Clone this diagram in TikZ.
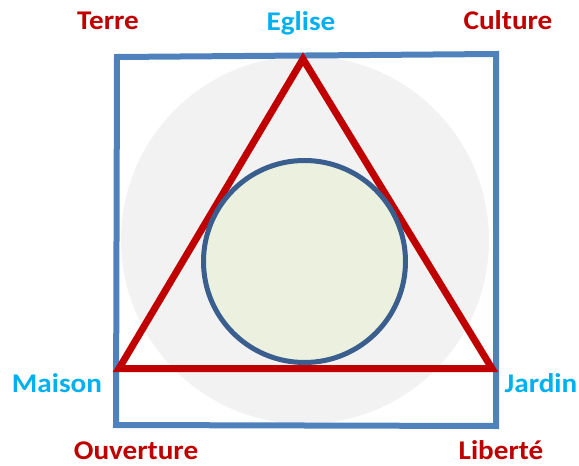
\documentclass[tikz,border=0pt]{standalone}
\usepackage{fontspec}
\setmainfont{Carlito}
\definecolor{sqblue}{HTML}{4F81BD}
\definecolor{trired}{HTML}{C00000}
\definecolor{labcyan}{HTML}{00B0F0}
\definecolor{bggrey}{HTML}{F2F2F2}
\definecolor{infill}{HTML}{EBF1DE}
\definecolor{inline}{HTML}{3A5F8E}
\tikzset{
  lab/.style={font=\fontsize{27}{30}\selectfont\bfseries, anchor=base, inner sep=0pt, xscale=1.08},
  redlab/.style={lab, text=trired},
  cyanlab/.style={lab, text=labcyan},
}
\begin{document}
\begin{tikzpicture}[x=1pt,y=-1pt]
\useasboundingbox (0,0) rectangle (579,466);
% grey background disc
\fill[bggrey] (305,240) circle (184);
% square
\coordinate (s1) at (117,57);
\coordinate (s2) at (496,54);
\coordinate (s3) at (496,426);
\coordinate (s4) at (116,425);
\draw[sqblue, line width=6pt, line join=miter] (s1) -- (s2) -- (s3) -- (s4) -- cycle;
% triangle
\coordinate (t1) at (303,59);
\coordinate (t2) at (492,368.5);
\coordinate (t3) at (119,368.5);
\draw[trired, line width=7pt, line join=miter] (t1) -- (t2) -- (t3) -- cycle;
% inner circle
\draw[inline, fill=infill, line width=5pt] (304.5,261.5) circle (101);
% labels
\node[redlab] (terre) at (108,29) {Terre};
\node[cyanlab] (eglise) at (301,30) {Eglise};
\node[redlab] (culture) at (508,29) {Culture};
\node[cyanlab] (maison) at (57,392) {Maison};
\node[cyanlab] (jardin) at (541,392) {Jardin};
\node[redlab] (ouverture) at (136,459) {Ouverture};
\node[redlab] (liberte) at (501,459) {Liberté};
\end{tikzpicture}
\end{document}
